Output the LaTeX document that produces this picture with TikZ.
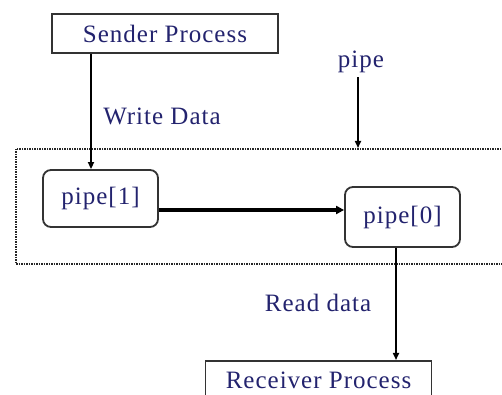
\documentclass[tikz,border=0pt]{standalone}
\usepackage{fontspec}
\newfontfamily\lblfont[LetterSpace=4]{Liberation Serif}
\usetikzlibrary{arrows.meta,calc}
\definecolor{inkblue}{HTML}{23236E}
\definecolor{boxline}{HTML}{333333}
\tikzset{
  lbl/.style={text=inkblue, font=\lblfont\fontsize{25}{28}\selectfont, inner sep=0pt},
  procbox/.style={lbl, draw=boxline, line width=1.9pt, fill=white,
    minimum width=226pt, minimum height=39pt},
  endbox/.style={lbl, draw=boxline, line width=1.8pt, fill=white, rounded corners=8pt,
    minimum width=115pt},
  flow/.style={line width=1.6pt, -{Triangle[length=7pt,width=6pt]}},
  thickflow/.style={line width=3.5pt, -{Triangle[length=8pt,width=8pt]}},
  pipeframe/.style={draw=black!85, line width=2pt, dash pattern=on 1.5pt off 1pt}
}
\begin{document}
\begin{tikzpicture}[x=1pt,y=1pt]
  \useasboundingbox (0,0) rectangle (502,395);
  \clip (0,0) rectangle (502,395);

  % pipe region
  \node[pipeframe, minimum width=500pt, minimum height=115pt, anchor=south west,
        inner sep=0pt] (frame) at (15,130) {};

  % processes
  \node[procbox] (sender) at (165,361.5) {Sender Process};
  \node[procbox, anchor=north] (receiver) at (318.5,35) {Receiver Process};

  % pipe ends
  \node[endbox, minimum height=57pt] (p1) at (100.5,196.5) {pipe[1]};
  \node[endbox, minimum height=60pt] (p0) at (402.5,178) {\raisebox{5pt}{pipe[0]}};

  % labels
  \node[lbl] (pipelbl) at (361,333) {pipe};
  \node[lbl] (wlbl) at (162,279) {Write Data};
  \node[lbl] (rlbl) at (318,92) {Read data};

  % guide coordinates for the connector lines
  \coordinate (wx) at (91,0);
  \coordinate (px) at (358,0);
  \coordinate (rx) at (396,0);
  \coordinate (hy) at (0,185);

  % connectors
  \draw[flow] (sender.south -| wx) -- (p1.north -| wx);
  \draw[flow] (pipelbl.south -| px) ++(0,-4) -- (frame.north -| px);
  \draw[thickflow] (p1.east |- hy) -- (p0.west |- hy);
  \draw[flow] (p0.south -| rx) -- (receiver.north -| rx);
\end{tikzpicture}
\end{document}
